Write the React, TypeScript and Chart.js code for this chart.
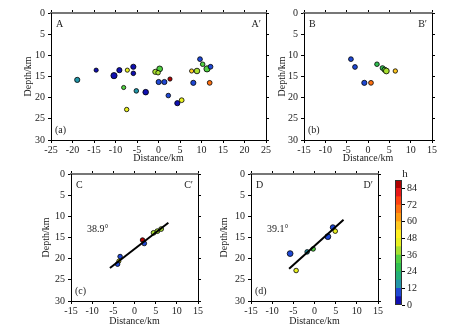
import React, { useEffect, useRef } from "react";
import { Chart, registerables } from "chart.js";
Chart.register(...registerables);

const FONT = "'Liberation Serif', 'Times New Roman', serif";
Chart.defaults.font.family = FONT;
Chart.defaults.font.size = 10;
Chart.defaults.color = "#1a1a1a";

// ---------- data ----------
// Profile A–A'
const aDist = [-18.9, -14.5, -10.35, -9.1, -7.25, -5.85, -5.85, -8.1, -5.16, -2.98, -7.4, 0.27, -0.74, -0.1, 0.04, 1.36, 2.67, 2.28, 4.38, 5.39, 9.65, 10.27, 7.7, 8.95, 11.28, 12.1, 8.1, 11.9];
const aDepth = [15.8, 13.5, 14.8, 13.5, 13.5, 12.7, 14.25, 17.6, 18.4, 18.7, 22.8, 13.2, 13.9, 14.1, 16.3, 16.3, 15.6, 19.5, 21.3, 20.6, 10.9, 12.1, 13.7, 13.7, 13.2, 12.7, 16.5, 16.5];
const aH = [16, 5, 3, 5, 46, 5, 5, 32, 16, 3, 46, 32, 38, 40, 7, 7, 86, 7, 3, 46, 7, 30, 56, 38, 30, 7, 7, 66];
const aMag = [2.0, 1.5, 2.5, 2.0, 1.5, 2.0, 1.7, 1.5, 1.7, 2.2, 1.6, 2.3, 2.0, 1.7, 2.0, 2.0, 1.5, 1.7, 2.0, 1.8, 1.8, 1.7, 1.5, 2.2, 2.5, 1.8, 2.0, 1.8];

// Profile B–B'
const bDist = [-4.0, -3.05, -0.86, 0.7, 2.1, 3.4, 3.9, 4.3, 6.4];
const bDepth = [10.9, 12.75, 16.5, 16.5, 12.1, 13.0, 13.4, 13.7, 13.7];
const bH = [7, 7, 7, 66, 28, 24, 30, 38, 56];
const bMag = [1.8, 1.8, 2.0, 1.8, 1.7, 1.8, 2.0, 2.3, 1.6];

// Profile C–C'
const cDist = [-3.4, -3.7, -4.0, 1.9, 2.3, 4.5, 5.4, 6.3];
const cDepth = [19.5, 20.6, 21.3, 15.6, 16.4, 13.9, 13.5, 13.0];
const cH = [7, 46, 7, 86, 7, 37, 37, 37];
const cMag = [1.7, 1.5, 1.7, 1.7, 1.8, 1.8, 1.8, 1.8];
const cFitDist = [-5.8, 8.0];
const cFitDepth = [22.2, 11.5];
const cDip = "38.9°";

// Profile D–D'
const dDist = [-5.76, -4.34, -1.74, -0.32, 3.16, 4.34, 4.9];
const dDepth = [18.8, 22.8, 18.4, 17.7, 14.8, 12.6, 13.5];
const dH = [7, 46, 16, 30, 7, 7, 46];
const dMag = [2.3, 1.7, 1.7, 1.7, 2.3, 2.0, 1.7];
const dFitDist = [-6.0, 6.86];
const dFitDepth = [22.4, 10.8];
const dDip = "39.1°";

// colour scale (h)
const hStep = 6;
const hMax = 90;
const hTickStep = 12;
const hBandColors = [
  "#1010b0", "#1f48d4", "#2296a8", "#22b078", "#30c050", "#52d042", "#a8e030",
  "#e8f020", "#fff020", "#ffc820", "#ff9a10", "#ff7010", "#ff4010", "#e81818", "#b00000",
];

function hColor(h: number) {
  const i = Math.min(hBandColors.length - 1, Math.max(0, Math.floor(h / hStep)));
  return hBandColors[i];
}

// ---------- plugins ----------
const panelText = {
  id: "panelText",
  afterDatasetsDraw(chart: any, _args: any, opts: any) {
    const { ctx, chartArea: ca, scales } = chart;
    if (!opts || !opts.tl) return;
    ctx.save();
    ctx.font = `10px ${FONT}`;
    ctx.fillStyle = "#1a1a1a";
    ctx.textBaseline = "top";
    ctx.textAlign = "left";
    ctx.fillText(opts.tl, ca.left + 5, ca.top + 6);
    ctx.textAlign = "right";
    ctx.fillText(opts.tr, ca.right - 5, ca.top + 6);
    ctx.textAlign = "left";
    ctx.textBaseline = "alphabetic";
    ctx.fillText(opts.bl, ca.left + 4, ca.bottom - 7);
    if (opts.angle) {
      ctx.textBaseline = "middle";
      ctx.fillText(
        opts.angle.text,
        scales.x.getPixelForValue(opts.angle.x),
        scales.y.getPixelForValue(opts.angle.y)
      );
    }
    ctx.restore();
  },
};

const cbFrame = {
  id: "cbFrame",
  afterDatasetsDraw(chart: any, _args: any, opts: any) {
    if (!opts || !opts.on) return;
    const { ctx, chartArea: ca } = chart;
    ctx.save();
    ctx.strokeStyle = "#333";
    ctx.lineWidth = 1;
    ctx.strokeRect(ca.left + 0.5, ca.top + 0.5, ca.right - ca.left - 1, ca.bottom - ca.top - 1);
    ctx.font = `11px ${FONT}`;
    ctx.fillStyle = "#1a1a1a";
    ctx.textAlign = "center";
    ctx.textBaseline = "alphabetic";
    ctx.fillText(opts.title, ca.right + 3, ca.top - 3);
    ctx.restore();
  },
};

// ---------- panel ----------
type Spec = {
  left: number; top: number; w: number; h: number;
  axisW: number; rightW: number; topH: number; bottomH: number;
  xMin: number; xMax: number;
  dist: number[]; depth: number[]; hv: number[]; mag: number[];
  fitX?: number[]; fitY?: number[]; dip?: string;
  tl: string; tr: string; bl: string;
};

const tickGrid = { drawOnChartArea: false, drawTicks: true, tickLength: 3, color: "#000", lineWidth: 1 };

function Panel({ s }: { s: Spec }) {
  const ref = useRef<HTMLCanvasElement>(null);
  useEffect(() => {
    const datasets: any[] = [
      {
        type: "scatter",
        order: 1,
        data: s.dist.map((x, i) => ({ x, y: s.depth[i] })),
        pointBackgroundColor: s.hv.map(hColor),
        pointBorderColor: "#000",
        pointBorderWidth: 0.8,
        pointRadius: s.mag.map((m) => m + 0.6),
        pointHoverRadius: s.mag.map((m) => m + 0.6),
      },
    ];
    if (s.fitX && s.fitY) {
      datasets.push({
        type: "scatter",
        order: 0,
        data: s.fitX.map((x, i) => ({ x, y: s.fitY![i] })),
        showLine: true,
        borderColor: "#000",
        borderWidth: 2,
        pointRadius: 0,
      });
    }
    const chart = new Chart(ref.current!, {
      type: "scatter",
      data: { datasets },
      plugins: [panelText],
      options: {
        animation: false,
        responsive: false,
        devicePixelRatio: 1,
        layout: { padding: 0 },
        plugins: {
          legend: { display: false },
          tooltip: { enabled: false },
          panelText: {
            tl: s.tl, tr: s.tr, bl: s.bl,
            angle: s.dip ? { text: s.dip, x: -11.2, y: 13.1 } : null,
          },
        } as any,
        scales: {
          x: {
            type: "linear", position: "bottom", min: s.xMin, max: s.xMax,
            ticks: { stepSize: 5, padding: 1, color: "#1a1a1a", font: { size: 10, family: FONT } },
            grid: tickGrid,
            border: { color: "#000", width: 1 },
            title: { display: true, text: "Distance/km", color: "#1a1a1a", font: { size: 10, family: FONT }, padding: { top: 0, bottom: 4 } },
            afterFit: (sc: any) => { sc.height = s.bottomH; },
          },
          x2: {
            type: "linear", position: "top", min: s.xMin, max: s.xMax,
            ticks: { stepSize: 5, display: false },
            grid: tickGrid,
            border: { color: "#777", width: 2 },
            afterFit: (sc: any) => { sc.height = s.topH; },
          },
          y: {
            type: "linear", position: "left", min: 0, max: 30, reverse: true,
            ticks: { stepSize: 5, padding: 3, color: "#1a1a1a", font: { size: 10, family: FONT } },
            grid: tickGrid,
            border: { color: "#000", width: 1 },
            title: { display: true, text: "Depth/km", color: "#1a1a1a", font: { size: 10, family: FONT } },
            afterFit: (sc: any) => { sc.width = s.axisW; },
          },
          y2: {
            type: "linear", position: "right", min: 0, max: 30, reverse: true,
            ticks: { stepSize: 5, display: false },
            grid: tickGrid,
            border: { color: "#000", width: 1 },
            afterFit: (sc: any) => { sc.width = s.rightW; },
          },
        } as any,
      },
    });
    return () => chart.destroy();
  }, []);
  return (
    <canvas
      ref={ref}
      width={s.w}
      height={s.h}
      style={{ position: "absolute", left: s.left, top: s.top, width: s.w, height: s.h }}
    />
  );
}

function ColorBar() {
  const ref = useRef<HTMLCanvasElement>(null);
  useEffect(() => {
    const nBands = Math.round(hMax / hStep);
    const chart = new Chart(ref.current!, {
      type: "bar",
      data: {
        labels: [""],
        datasets: Array.from({ length: nBands }, (_, i) => ({
          data: [hStep],
          backgroundColor: hBandColors[i],
          borderWidth: 0,
          barPercentage: 1,
          categoryPercentage: 1,
        })),
      },
      plugins: [cbFrame],
      options: {
        animation: false,
        responsive: false,
        devicePixelRatio: 1,
        layout: { padding: { left: 3, top: 12, bottom: 7, right: 0 } },
        plugins: {
          legend: { display: false },
          tooltip: { enabled: false },
          cbFrame: { on: true, title: "h" },
        } as any,
        scales: {
          x: { display: false, stacked: true },
          y: {
            stacked: true, position: "right", min: 0, max: hMax,
            ticks: { stepSize: hTickStep, includeBounds: false, padding: 2, color: "#1a1a1a", font: { size: 10, family: FONT } },
            grid: { drawOnChartArea: false, drawTicks: true, tickLength: 3, color: "#000" },
            border: { display: false },
            afterFit: (sc: any) => { sc.width = 30; },
          },
        } as any,
      },
    });
    return () => chart.destroy();
  }, []);
  return (
    <canvas
      ref={ref}
      width={40}
      height={145}
      style={{ position: "absolute", left: 392, top: 168, width: 40, height: 145 }}
    />
  );
}

const specs: Spec[] = [
  { left: 18, top: 0, w: 262, h: 168, axisW: 33, rightW: 14, topH: 13, bottomH: 28, xMin: -25, xMax: 25,
    dist: aDist, depth: aDepth, hv: aH, mag: aMag, tl: "A", tr: "A\u2032", bl: "(a)" },
  { left: 272, top: 0, w: 174, h: 168, axisW: 32, rightW: 14, topH: 13, bottomH: 28, xMin: -15, xMax: 15,
    dist: bDist, depth: bDepth, hv: bH, mag: bMag, tl: "B", tr: "B\u2032", bl: "(b)" },
  { left: 36, top: 161, w: 176, h: 170, axisW: 35, rightW: 14, topH: 13, bottomH: 30, xMin: -15, xMax: 15,
    dist: cDist, depth: cDepth, hv: cH, mag: cMag, fitX: cFitDist, fitY: cFitDepth, dip: cDip, tl: "C", tr: "C\u2032", bl: "(c)" },
  { left: 214, top: 161, w: 178, h: 170, axisW: 37, rightW: 14, topH: 13, bottomH: 30, xMin: -15, xMax: 15,
    dist: dDist, depth: dDepth, hv: dH, mag: dMag, fitX: dFitDist, fitY: dFitDepth, dip: dDip, tl: "D", tr: "D\u2032", bl: "(d)" },
];

export default function App() {
  return (
    <div style={{ position: "absolute", left: 0, top: 0, width: 458, height: 334, background: "#fff", overflow: "hidden" }}>
      {specs.map((s, i) => (
        <Panel key={i} s={s} />
      ))}
      <ColorBar />
    </div>
  );
}
